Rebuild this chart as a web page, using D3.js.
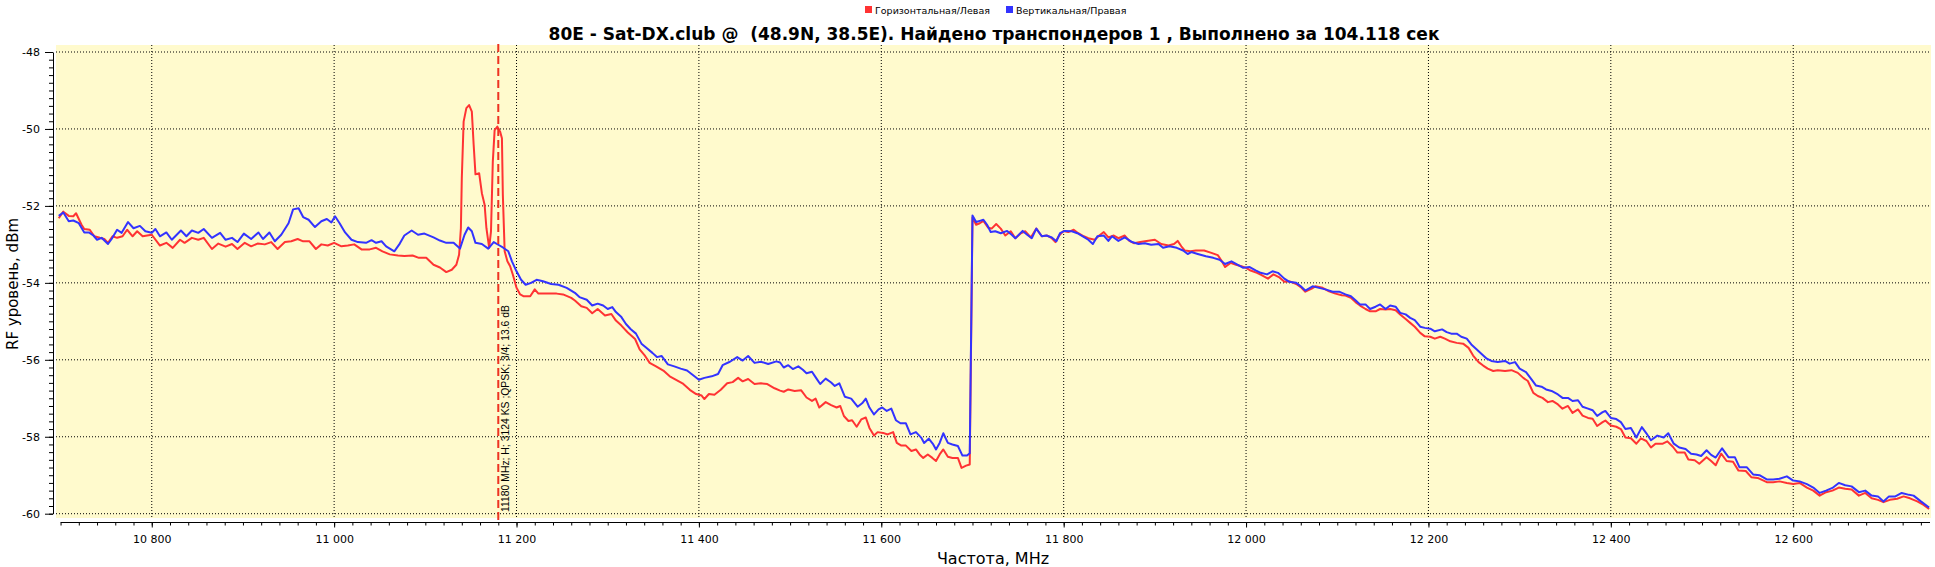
<!DOCTYPE html>
<html>
<head>
<meta charset="utf-8">
<script src="https://cdn.jsdelivr.net/npm/d3@7"></script>
<style>
  body { margin: 0; background: #fff; }
  svg { display: block; font-family: "DejaVu Sans", sans-serif; }
</style>
</head>
<body>
<svg id="chart" width="1935" height="567"></svg>
<script>
// Горизонтальная/Левая (red)
const freqH = [10698,10703,10709,10714,10717,10723,10726,10732,10737,10743,10748,10752,10757,10762,10768,10773,10779,10784,10790,10800,
  10809,10816,10823,10831,10836,10844,10851,10857,10866,10873,10881,10888,10894,10902,10909,10916,10924,10931,10938,10946,
  10953,10960,10966,10973,10980,10986,10993,11000,11008,11015,11022,11030,11039,11046,11053,11061,11070,11077,11086,11093,
  11101,11109,11116,11123,11129,11134,11137,11139,11140,11142,11145,11148,11151,11153,11155,11159,11162,11165,11167,11170,
  11172,11174,11176,11179,11182,11184,11185,11187,11190,11193,11196,11200,11204,11208,11215,11220,11224,11233,11244,11251,
  11260,11264,11271,11277,11283,11289,11297,11304,11309,11315,11322,11330,11335,11341,11346,11353,11361,11368,11375,11382,
  11390,11397,11403,11406,11411,11417,11424,11431,11437,11443,11448,11454,11461,11468,11475,11483,11489,11493,11498,11505,
  11512,11518,11524,11528,11532,11539,11545,11551,11555,11559,11564,11568,11573,11578,11583,11587,11592,11596,11602,11607,
  11613,11617,11622,11627,11633,11638,11642,11646,11651,11656,11660,11664,11668,11673,11678,11684,11688,11693,11697,11700,
  11704,11708,11712,11717,11721,11726,11731,11736,11742,11747,11753,11758,11764,11770,11776,11782,11787,11791,11795,11800,
  11805,11811,11816,11822,11827,11834,11839,11844,11849,11855,11860,11867,11872,11877,11884,11891,11900,11907,11915,11921,
  11925,11929,11933,11939,11945,11954,11962,11969,11973,11977,11983,11989,11995,12000,12005,12012,12017,12024,12030,12036,
  12042,12048,12055,12060,12065,12072,12076,12084,12091,12098,12105,12109,12115,12120,12125,12131,12136,12142,12147,12153,
  12158,12164,12169,12175,12180,12185,12191,12196,12202,12207,12213,12218,12224,12231,12238,12244,12249,12255,12260,12265,
  12271,12276,12284,12291,12298,12304,12309,12315,12320,12325,12331,12336,12342,12347,12353,12358,12364,12369,12375,12380,
  12385,12391,12394,12400,12406,12411,12416,12422,12428,12433,12439,12444,12449,12457,12462,12468,12473,12481,12485,12492,
  12497,12505,12510,12515,12521,12527,12534,12540,12548,12554,12561,12571,12578,12585,12593,12600,12607,12615,12622,12629,
  12636,12643,12650,12657,12664,12672,12679,12686,12693,12699,12706,12714,12721,12728,12736,12743,12749];
const levelH = [-52.32,-52.15,-52.26,-52.27,-52.19,-52.49,-52.60,-52.62,-52.79,-52.83,-52.86,-52.96,-52.79,-52.83,-52.79,-52.62,-52.79,-52.66,-52.79,-52.75,
  -53.03,-52.96,-53.09,-52.88,-52.96,-52.83,-52.88,-52.83,-53.12,-52.98,-53.06,-52.99,-53.12,-52.96,-53.05,-52.98,-53.00,-52.94,-53.12,-52.94,
  -52.92,-52.86,-52.92,-52.92,-53.12,-53.00,-53.03,-52.96,-53.05,-53.03,-53.00,-53.13,-53.13,-53.09,-53.18,-53.26,-53.29,-53.30,-53.29,-53.35,
  -53.35,-53.53,-53.60,-53.72,-53.66,-53.53,-53.27,-52.58,-51.28,-49.81,-49.46,-49.38,-49.55,-50.41,-51.18,-51.15,-51.67,-51.97,-52.58,-53.09,
  -52.66,-50.85,-50.03,-49.94,-50.07,-50.24,-51.71,-53.18,-53.44,-53.57,-53.79,-54.13,-54.30,-54.35,-54.35,-54.17,-54.28,-54.28,-54.28,-54.30,
  -54.39,-54.46,-54.61,-54.65,-54.79,-54.68,-54.85,-54.81,-54.98,-55.11,-55.29,-55.46,-55.73,-55.90,-56.08,-56.17,-56.28,-56.43,-56.52,-56.61,
  -56.78,-56.89,-56.93,-57.02,-56.89,-56.91,-56.78,-56.61,-56.58,-56.47,-56.56,-56.50,-56.63,-56.61,-56.63,-56.74,-56.80,-56.83,-56.77,-56.81,
  -56.79,-56.98,-57.07,-57.01,-57.24,-57.10,-57.18,-57.24,-57.20,-57.46,-57.59,-57.57,-57.74,-57.55,-57.50,-57.77,-57.97,-57.88,-57.90,-57.94,
  -57.88,-58.16,-58.23,-58.23,-58.37,-58.33,-58.46,-58.55,-58.46,-58.55,-58.63,-58.46,-58.33,-58.52,-58.55,-58.55,-58.81,-58.75,-58.72,-52.30,
  -52.49,-52.45,-52.39,-52.56,-52.59,-52.47,-52.59,-52.77,-52.66,-52.84,-52.71,-52.66,-52.82,-52.59,-52.79,-52.77,-52.84,-52.94,-52.77,-52.65,
  -52.68,-52.62,-52.71,-52.79,-52.84,-52.88,-52.77,-52.68,-52.82,-52.77,-52.84,-52.77,-52.91,-52.97,-52.94,-52.91,-52.88,-52.99,-53.03,-52.99,
  -52.91,-53.05,-53.16,-53.18,-53.16,-53.16,-53.22,-53.28,-53.42,-53.59,-53.48,-53.53,-53.57,-53.61,-53.68,-53.74,-53.80,-53.89,-53.78,-53.85,
  -53.97,-53.96,-54.03,-54.11,-54.23,-54.15,-54.09,-54.13,-54.22,-54.28,-54.32,-54.33,-54.39,-54.50,-54.59,-54.68,-54.74,-54.74,-54.68,-54.69,
  -54.68,-54.71,-54.82,-54.94,-55.04,-55.14,-55.30,-55.39,-55.40,-55.45,-55.40,-55.45,-55.52,-55.56,-55.58,-55.69,-55.89,-56.06,-56.15,-56.23,
  -56.29,-56.27,-56.29,-56.27,-56.34,-56.47,-56.55,-56.86,-56.94,-56.99,-57.10,-57.07,-57.16,-57.27,-57.20,-57.38,-57.29,-57.45,-57.51,-57.53,
  -57.72,-57.62,-57.58,-57.71,-57.74,-57.80,-58.02,-58.04,-58.18,-58.04,-58.11,-58.28,-58.18,-58.18,-58.12,-58.26,-58.41,-58.41,-58.59,-58.61,
  -58.70,-58.53,-58.63,-58.74,-58.44,-58.63,-58.65,-58.88,-58.89,-59.05,-59.07,-59.18,-59.18,-59.16,-59.20,-59.23,-59.20,-59.32,-59.40,-59.53,
  -59.44,-59.40,-59.32,-59.35,-59.37,-59.53,-59.46,-59.60,-59.64,-59.70,-59.64,-59.61,-59.55,-59.60,-59.68,-59.77,-59.88];

// Вертикальная/Правая (blue)
const freqV = [10698,10703,10709,10714,10720,10726,10731,10736,10740,10745,10752,10756,10762,10767,10774,10780,10787,10793,10800,10804,
  10809,10816,10822,10832,10838,10844,10851,10857,10866,10875,10881,10888,10894,10901,10909,10917,10922,10929,10935,10942,
  10950,10955,10961,10966,10972,10979,10986,10992,10997,11001,11006,11012,11019,11026,11035,11041,11046,11052,11057,11066,
  11072,11077,11085,11092,11099,11109,11116,11123,11131,11138,11143,11147,11151,11155,11162,11169,11175,11180,11185,11191,
  11195,11200,11205,11210,11216,11222,11229,11238,11246,11255,11264,11269,11277,11283,11289,11295,11300,11305,11309,11315,
  11320,11325,11331,11337,11342,11349,11354,11359,11366,11373,11380,11387,11393,11400,11406,11414,11421,11426,11434,11442,
  11448,11454,11461,11468,11476,11485,11489,11493,11498,11503,11509,11514,11518,11524,11529,11533,11539,11545,11549,11554,
  11560,11567,11574,11579,11583,11587,11592,11597,11601,11606,11611,11616,11621,11627,11632,11638,11644,11647,11652,11657,
  11660,11664,11668,11673,11678,11684,11689,11694,11697,11700,11704,11708,11712,11716,11720,11725,11731,11738,11743,11747,
  11755,11760,11765,11770,11776,11781,11787,11792,11796,11801,11809,11815,11821,11827,11832,11837,11844,11849,11853,11860,
  11867,11875,11882,11889,11896,11904,11909,11916,11924,11931,11936,11940,11947,11956,11964,11971,11977,11984,11991,11997,
  12004,12011,12016,12023,12029,12035,12042,12047,12055,12060,12065,12073,12080,12087,12095,12102,12109,12115,12120,12125,
  12131,12136,12142,12147,12153,12158,12164,12169,12175,12180,12185,12191,12196,12202,12207,12215,12220,12225,12231,12236,
  12242,12247,12253,12258,12264,12269,12276,12284,12289,12295,12300,12307,12313,12318,12324,12329,12335,12342,12347,12353,
  12358,12364,12369,12375,12380,12385,12391,12394,12400,12406,12411,12416,12422,12428,12434,12439,12444,12451,12458,12463,
  12469,12475,12482,12488,12494,12499,12505,12510,12515,12522,12529,12536,12541,12549,12556,12563,12571,12578,12585,12593,
  12600,12607,12615,12622,12629,12636,12643,12650,12657,12664,12672,12679,12686,12693,12699,12705,12712,12719,12727,12732,
  12740,12749];
const levelV = [-52.26,-52.17,-52.40,-52.38,-52.45,-52.69,-52.69,-52.77,-52.88,-52.83,-52.99,-52.86,-52.62,-52.70,-52.42,-52.58,-52.52,-52.66,-52.70,-52.60,
  -52.79,-52.69,-52.88,-52.64,-52.79,-52.64,-52.70,-52.60,-52.83,-52.70,-52.88,-52.83,-52.94,-52.72,-52.86,-52.69,-52.86,-52.69,-52.92,-52.75,
  -52.45,-52.09,-52.06,-52.29,-52.36,-52.55,-52.40,-52.34,-52.43,-52.27,-52.45,-52.69,-52.88,-52.94,-52.96,-52.89,-52.96,-52.92,-53.05,-53.18,
  -52.98,-52.77,-52.64,-52.75,-52.72,-52.82,-52.90,-52.96,-52.96,-53.11,-52.75,-52.56,-52.66,-52.96,-52.99,-53.11,-52.94,-53.01,-53.08,-53.18,
  -53.44,-53.70,-53.92,-54.05,-54.00,-53.92,-53.96,-54.03,-54.05,-54.13,-54.26,-54.37,-54.44,-54.59,-54.54,-54.59,-54.68,-54.63,-54.76,-54.89,
  -55.07,-55.20,-55.32,-55.58,-55.68,-55.82,-55.93,-55.90,-56.12,-56.17,-56.23,-56.28,-56.39,-56.52,-56.47,-56.43,-56.37,-56.14,-56.05,-55.93,
  -56.02,-55.90,-56.08,-56.05,-56.11,-56.04,-56.07,-56.20,-56.14,-56.24,-56.17,-56.26,-56.35,-56.31,-56.49,-56.63,-56.49,-56.59,-56.68,-56.61,
  -56.96,-57.01,-57.22,-57.13,-57.01,-57.24,-57.42,-57.29,-57.24,-57.33,-57.27,-57.57,-57.65,-57.65,-57.94,-57.88,-58.03,-58.16,-58.05,-58.20,
  -58.33,-58.16,-57.91,-58.16,-58.20,-58.24,-58.49,-58.49,-58.43,-52.25,-52.42,-52.39,-52.36,-52.49,-52.68,-52.66,-52.71,-52.65,-52.75,-52.84,
  -52.65,-52.75,-52.84,-52.59,-52.79,-52.77,-52.82,-52.92,-52.71,-52.65,-52.66,-52.71,-52.79,-52.88,-52.99,-52.79,-52.77,-52.91,-52.79,-52.91,
  -52.82,-52.94,-52.99,-52.97,-53.01,-52.99,-53.09,-53.05,-53.09,-53.16,-53.25,-53.20,-53.25,-53.31,-53.35,-53.40,-53.51,-53.44,-53.53,-53.61,
  -53.59,-53.68,-53.74,-53.78,-53.70,-53.74,-53.89,-53.97,-54.00,-54.09,-54.20,-54.09,-54.13,-54.17,-54.23,-54.23,-54.30,-54.35,-54.45,-54.56,
  -54.56,-54.68,-54.62,-54.56,-54.68,-54.59,-54.62,-54.78,-54.82,-54.91,-54.97,-55.14,-55.17,-55.19,-55.26,-55.21,-55.28,-55.32,-55.32,-55.40,
  -55.45,-55.60,-55.73,-55.84,-55.97,-56.03,-56.06,-56.03,-56.10,-56.06,-56.23,-56.32,-56.51,-56.67,-56.70,-56.77,-56.81,-56.90,-56.99,-56.99,
  -57.07,-57.05,-57.22,-57.27,-57.31,-57.46,-57.36,-57.33,-57.51,-57.54,-57.62,-57.80,-57.77,-58.02,-57.75,-57.91,-58.09,-57.97,-58.02,-57.91,
  -58.18,-58.28,-58.32,-58.44,-58.46,-58.50,-58.35,-58.47,-58.54,-58.30,-58.53,-58.53,-58.79,-58.79,-58.98,-59.00,-59.11,-59.11,-59.09,-59.03,
  -59.14,-59.16,-59.23,-59.32,-59.46,-59.40,-59.33,-59.20,-59.26,-59.29,-59.44,-59.40,-59.53,-59.55,-59.68,-59.55,-59.55,-59.46,-59.51,-59.53,
  -59.68,-59.84];

const seriesNames = ["Горизонтальная/Левая", "Вертикальная/Правая"];
const xTicks = [10800, 11000, 11200, 11400, 11600, 11800, 12000, 12200, 12400, 12600];
const yTicks = [-48, -50, -52, -54, -56, -58, -60];
const markerFreq = 11180;
const markerLabel = "11180 MHz; H; 3124 KS ;QPSK; 3/4; 13.6 dB";
const titleText = "80E - Sat-DX.club @  (48.9N, 38.5E). Найдено транспондеров 1 , Выполнено за 104.118 сек";

const colorH = "#ff3333", colorV = "#3333ff";
const svg = d3.select("#chart");

const plot = { left: 56, right: 1931, top: 45, bottom: 518 };
const x = d3.scaleLinear().domain([10695, 12750]).range([56, 1930]);
const y = d3.scaleLinear().domain([-60, -48]).range([513.7, 52]);

// plot background
svg.append("rect")
  .attr("x", plot.left).attr("y", plot.top)
  .attr("width", plot.right - plot.left).attr("height", plot.bottom - plot.top)
  .attr("fill", "#fffacd");

// dotted grid
svg.append("g").selectAll("line").data(xTicks).join("line")
  .attr("x1", d => x(d)).attr("x2", d => x(d))
  .attr("y1", plot.top).attr("y2", plot.bottom)
  .attr("stroke", "#000").attr("stroke-dasharray", "1,2");
svg.append("g").selectAll("line").data(yTicks).join("line")
  .attr("x1", plot.left).attr("x2", plot.right)
  .attr("y1", d => y(d)).attr("y2", d => y(d))
  .attr("stroke", "#000").attr("stroke-dasharray", "1,2");

// y axis
const yAxis = svg.append("g").attr("transform", "translate(53,0)");
yAxis.call(d3.axisLeft(y).tickValues(d3.range(-60, -47.9, 0.2)).tickSize(4).tickSizeOuter(0).tickFormat(""));
yAxis.append("g").call(d3.axisLeft(y).tickValues(yTicks).tickSize(8).tickSizeOuter(0).tickPadding(5).tickFormat(d => String(d)))
  .call(g => g.select(".domain").remove());
yAxis.selectAll("text").attr("font-size", 11).attr("font-family", "DejaVu Sans").attr("fill", "#000");

// x axis
const ruFmt = d3.formatLocale({ decimal: ",", thousands: " ", grouping: [3], currency: ["", ""] }).format(",d");
const xAxis = svg.append("g").attr("transform", "translate(0,522.5)");
xAxis.call(d3.axisBottom(x).tickValues(d3.range(10700, 12750, 20)).tickSize(3).tickSizeOuter(0).tickFormat(""))
  .call(g => g.select(".domain").remove());
xAxis.append("line").attr("x1", x(10700)).attr("x2", x(12750)).attr("stroke", "#000");
xAxis.append("g").call(d3.axisBottom(x).tickValues(xTicks).tickSize(5).tickPadding(8).tickFormat(ruFmt))
  .call(g => g.select(".domain").remove());
xAxis.selectAll("text").attr("font-size", 11).attr("font-family", "DejaVu Sans").attr("fill", "#000");

// series
const line = d3.line().x(d => x(d[0])).y(d => y(d[1]));
svg.append("path").datum(d3.zip(freqH, levelH)).attr("d", line)
  .attr("fill", "none").attr("stroke", colorH).attr("stroke-width", 2).attr("stroke-linejoin", "round");
svg.append("path").datum(d3.zip(freqV, levelV)).attr("d", line)
  .attr("fill", "none").attr("stroke", colorV).attr("stroke-width", 2).attr("stroke-linejoin", "round");

// transponder marker
const mx = x(markerFreq);
svg.append("line").attr("x1", mx).attr("x2", mx).attr("y1", 44).attr("y2", 520)
  .attr("stroke", "#ee3322").attr("stroke-width", 2).attr("stroke-dasharray", "8,4");
svg.append("text")
  .attr("transform", `translate(${mx + 11},512) rotate(-90)`)
  .attr("font-size", 10.4).attr("font-family", "Liberation Sans").attr("fill", "#000")
  .text(markerLabel);

// title
svg.append("text").attr("x", 994).attr("y", 40).attr("text-anchor", "middle")
  .attr("font-size", 17).attr("font-weight", "bold").style("white-space", "pre")
  .text(titleText);

// axis titles
svg.append("text").attr("x", 993).attr("y", 564).attr("text-anchor", "middle")
  .attr("font-size", 16).text("Частота, MHz");
svg.append("text").attr("transform", "translate(18,284) rotate(-90)").attr("text-anchor", "middle")
  .attr("font-size", 15).text("RF уровень, dBm");

// legend
const legend = svg.append("g").attr("font-size", 9.5);
[[865, colorH, seriesNames[0]], [1006, colorV, seriesNames[1]]].forEach(([lx, c, name]) => {
  legend.append("rect").attr("x", lx).attr("y", 6).attr("width", 7).attr("height", 7).attr("fill", c);
  legend.append("text").attr("x", lx + 10).attr("y", 13.5).text(name);
});
</script>
</body>
</html>
